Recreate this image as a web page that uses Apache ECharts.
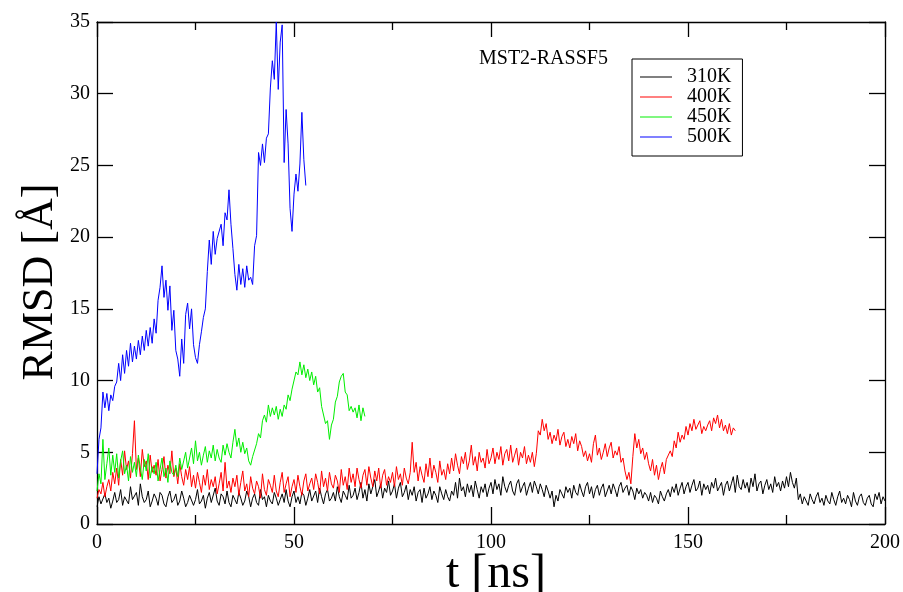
<!DOCTYPE html>
<html>
<head>
<meta charset="utf-8">
<script src="https://cdn.jsdelivr.net/npm/echarts@6/dist/echarts.min.js"></script>
<style>
  html, body { margin: 0; padding: 0; background: #fff; }
  #chart { width: 903px; height: 592px; }
</style>
</head>
<body>
<div id="chart"></div>
<script>
// RMSD vs time, sampled every 0.5 ns
var dt = 0.5;
var xTicks = [0, 50, 100, 150, 200];
var yTicks = [0, 5, 10, 15, 20, 25, 30, 35];
var seriesNames = ['310K', '400K', '450K', '500K'];
var seriesColors = ['#000000', '#ff0000', '#00ee00', '#0000ff'];

var rmsd310 = [
  1.2,1.9,1.4,1.3,2.1,1.5,1.8,1.1,1.6,2.2, 1.5,1.7,2.4,1.3,1.9,2.0,1.4,2.6,1.7,1.6,
  2.2,1.3,2.8,1.9,1.5,1.7,2.3,1.2,1.6,2.1, 1.8,1.3,2.2,2.0,1.4,1.2,1.9,2.3,1.5,1.7,
  2.1,1.3,1.6,2.3,1.8,1.2,1.5,2.0,1.9,1.3, 1.7,2.4,1.4,1.6,2.0,1.1,1.8,2.2,1.5,1.4,
  2.5,1.6,1.3,2.1,1.9,1.4,2.3,1.5,1.2,2.0, 1.7,1.4,2.2,1.8,1.3,1.6,2.3,1.9,1.2,1.8,
  2.1,1.5,1.3,2.4,1.7,1.9,1.2,2.0,1.6,1.4, 2.2,1.8,1.3,1.7,2.1,1.5,2.4,1.6,1.2,1.9,
  2.3,1.5,1.9,1.4,2.2,2.0,1.3,1.8,2.4,1.6, 1.7,2.3,1.5,2.5,1.9,1.4,2.1,2.4,1.6,1.8,
  2.2,1.6,2.6,1.9,1.5,2.3,2.0,1.7,2.7,1.8, 2.0,2.5,1.7,2.2,2.9,1.8,2.4,1.6,2.8,2.1,
  2.6,3.1,1.9,2.3,2.8,1.8,2.5,2.2,3.0,2.0, 2.3,2.8,1.8,2.5,2.9,1.9,2.2,2.7,1.7,2.4,
  2.0,2.6,1.6,2.2,2.4,1.5,2.5,1.8,2.1,2.6, 1.7,2.3,2.0,1.5,2.6,2.1,1.7,2.4,1.9,1.6,
  2.3,2.0,2.9,1.8,3.2,2.3,2.6,1.9,2.8,2.2, 2.7,1.9,3.0,2.4,1.8,2.6,2.2,2.8,1.9,2.5,
  2.9,2.1,3.1,2.4,2.8,2.0,3.3,2.6,2.2,2.7, 3.0,2.3,2.0,2.8,3.1,2.2,2.6,2.9,2.0,2.5,
  2.9,2.2,3.0,2.6,2.1,2.8,2.4,1.9,2.7,2.3, 1.8,2.3,1.2,2.0,1.6,2.4,2.1,1.8,2.6,2.2,
  2.5,1.8,2.7,2.2,2.0,2.8,2.3,1.9,2.6,2.9, 2.1,2.6,1.8,2.4,2.7,2.0,2.5,2.8,1.9,2.3,
  2.7,2.1,2.8,2.4,1.9,2.6,2.9,2.2,2.5,2.7, 2.0,2.6,2.3,1.7,2.5,2.1,2.4,1.8,2.2,2.0,
  1.6,2.2,1.5,2.0,1.8,1.4,2.3,1.9,1.6,2.1, 2.4,1.9,2.6,2.2,2.8,2.0,2.5,2.9,2.1,2.6,
  2.9,2.2,2.7,3.1,2.3,2.5,3.0,2.0,2.8,2.4, 2.7,2.1,2.9,2.5,3.2,2.3,2.6,2.9,2.0,2.7,
  3.0,2.3,2.8,3.3,2.2,3.4,2.6,2.4,3.1,2.5, 2.9,2.2,3.2,2.6,3.5,2.3,2.8,3.0,2.1,2.7,
  3.1,2.4,2.8,2.2,3.3,2.6,2.9,2.3,3.0,2.5, 3.3,2.6,3.6,2.9,2.5,3.2,1.7,2.1,1.4,1.9,
  1.6,1.3,2.1,1.7,1.4,1.9,2.2,1.5,1.8,1.3, 2.0,1.6,1.4,2.2,1.7,1.3,1.9,2.3,1.5,1.8,
  1.4,2.0,1.7,1.2,2.2,1.6,1.3,1.9,2.1,1.5, 1.3,1.8,2.0,1.4,1.2,2.1,1.7,2.2,1.4,1.9,
  1.6
];

var rmsd400 = [
  1.8,2.4,2.1,2.9,1.9,2.6,3.1,2.3,3.6,2.8, 3.9,2.7,4.5,3.4,5.1,3.8,4.4,3.2,4.9,7.2,
  3.8,4.6,3.3,5.2,4.0,4.4,3.1,4.8,3.6,4.1, 3.4,4.5,3.0,3.8,4.7,3.2,4.1,3.5,5.1,3.3,
  3.9,2.8,4.2,3.3,2.7,3.8,3.1,4.0,2.6,3.4, 2.5,3.6,2.9,2.2,3.4,2.7,3.8,2.4,3.1,2.6,
  3.3,2.1,2.8,3.6,2.3,4.3,2.5,3.0,2.2,3.2, 2.6,3.4,2.0,2.9,3.7,2.3,2.8,1.9,3.3,2.5,
  2.1,3.0,2.6,1.8,3.5,2.4,2.0,3.1,2.7,2.2, 3.4,2.3,1.9,2.9,3.6,2.2,2.8,3.3,1.9,2.6,
  3.1,2.2,3.4,2.6,2.0,3.0,3.5,2.3,2.8,3.2, 2.4,3.5,2.9,2.1,3.7,2.6,3.2,2.3,3.6,2.8,
  2.5,3.4,3.0,2.2,3.8,2.7,3.3,2.4,3.9,2.9, 3.5,2.6,3.9,3.1,2.5,3.4,3.8,2.7,4.0,3.2,
  2.6,3.7,3.0,3.9,2.5,3.4,3.8,2.7,3.3,2.9, 3.6,2.6,4.0,3.1,3.5,2.7,3.9,3.2,2.8,3.6,
  5.7,3.6,4.3,3.0,4.0,3.4,2.9,4.2,3.3,4.6, 3.2,4.1,3.6,2.9,4.4,3.4,3.8,3.1,4.2,3.5,
  4.6,3.7,4.9,4.1,3.5,4.7,4.2,5.0,3.8,4.4, 5.5,4.1,4.7,3.7,5.0,4.3,4.6,3.9,5.2,4.2,
  4.6,5.3,4.2,5.0,4.5,5.4,4.1,4.9,5.2,4.4, 5.5,4.3,4.8,5.3,4.1,5.0,4.6,5.4,4.2,4.8,
  4.3,5.0,4.0,4.9,6.5,6.2,7.3,6.5,7.0,5.9, 6.4,5.6,6.2,5.8,6.6,5.5,6.1,6.4,5.4,5.9,
  5.3,6.1,5.6,6.3,5.1,5.8,5.4,4.7,5.1,4.4, 4.9,4.3,5.6,6.2,4.8,5.3,4.5,5.0,5.6,4.7,
  5.3,5.7,4.6,5.1,4.8,5.4,4.3,4.6,3.7,3.1, 3.6,2.8,4.7,6.3,5.3,5.9,4.9,5.3,4.5,5.0,
  4.2,3.7,4.5,3.4,4.1,3.1,3.8,4.3,3.5,4.5, 4.4,5.1,4.7,5.8,5.3,6.4,5.7,6.2,5.9,6.8,
  6.2,7.0,6.5,7.3,6.6,6.9,7.2,6.3,6.8,6.5, 6.9,7.2,6.5,7.4,7.0,7.6,6.7,7.3,6.5,6.9,
  6.3,7.0,6.2,6.7,6.5
];

var rmsd450 = [
  2.3,3.5,2.8,5.9,3.1,4.2,5.3,3.4,4.8,3.6, 4.9,3.2,4.4,5.1,3.5,4.1,3.0,4.7,3.6,4.3,
  3.3,4.8,3.9,3.1,4.5,3.7,4.9,3.2,4.0,3.5, 4.3,3.0,3.8,4.6,3.3,3.9,2.9,4.4,3.6,3.4,
  4.1,3.3,4.6,3.8,4.4,5.0,3.9,4.6,5.3,4.2, 5.8,4.4,5.0,4.1,4.8,5.4,4.3,5.1,4.6,5.5,
  4.4,5.2,4.6,4.3,5.5,4.8,5.6,5.0,4.6,5.7, 6.6,5.4,6.0,5.0,5.7,4.9,5.3,4.4,4.1,4.7,
  4.8,5.6,6.3,6.0,7.2,7.6,7.1,8.3,7.5,8.1, 7.6,8.2,7.3,8.0,7.5,8.3,8.0,9.0,8.6,9.4,
  9.4,10.6,10.4,11.3,10.4,11.1,10.2,10.8,10.0,10.6, 9.7,10.3,9.2,9.5,8.2,8.3,7.0,7.2,5.9,6.9,
  7.3,8.5,8.9,9.9,10.3,10.5,9.2,9.0,7.9,8.2, 7.8,8.1,7.4,8.3,7.2,8.1,7.5
];

var rmsd500 = [
  3.5,5.9,6.7,9.2,8.1,9.1,7.9,9.0,8.6,9.6, 9.9,11.2,10.0,11.8,10.5,12.1,11.0,12.6,11.3,12.4,
  11.5,12.8,11.8,13.1,12.1,13.5,12.4,13.7,12.6,14.3, 13.3,15.6,16.5,18.0,15.8,17.0,14.9,16.6,13.5,14.9,
  12.1,11.5,10.3,12.9,11.2,14.6,15.4,13.6,15.0,12.5, 11.6,11.2,12.5,13.4,14.4,15.0,17.6,19.8,18.1,20.4,
  18.8,19.9,19.8,20.9,19.4,21.7,21.2,23.3,20.9,19.2, 17.4,16.3,18.1,16.7,17.8,16.5,18.0,17.0,17.2,16.7,
  19.4,20.1,25.9,25.0,26.5,25.2,26.9,27.2,30.4,32.3, 31.0,35.0,30.3,33.6,34.8,25.2,28.9,26.5,22.0,20.4,
  23.0,24.4,23.2,25.1,28.7,25.4,23.6
];

var allSeries = [rmsd310, rmsd400, rmsd450, rmsd500];

var toPairs = function toPairs(values) {
  return values.map(function (v, i) { return [i * dt, v]; });
};

var serifFont = '"Liberation Serif", "DejaVu Serif", serif';

var chart = echarts.init(document.getElementById('chart'), null, { renderer: 'canvas' });

var axisCommon = function axisCommon(ticks, showLabels, majorLen, minorLen, minorSplit) {
  return {
    type: 'value',
    min: ticks[0],
    max: ticks[ticks.length - 1],
    interval: ticks[1] - ticks[0],
    axisLine: { show: true, onZero: false, lineStyle: { color: '#000', width: 1.3 } },
    axisTick: { show: true, inside: true, length: majorLen, lineStyle: { color: '#000', width: 1.3 } },
    minorTick: { show: minorSplit > 0, splitNumber: minorSplit || 5, length: minorLen, lineStyle: { color: '#000', width: 1.3 } },
    splitLine: { show: false },
    axisLabel: {
      show: showLabels,
      color: '#000',
      fontFamily: serifFont,
      fontSize: 20
    }
  };
};

var xBottom = axisCommon(xTicks, true, 17, 9, 2);
xBottom.position = 'bottom';
xBottom.name = 't [ns]';
xBottom.nameLocation = 'middle';
xBottom.nameGap = 26;
xBottom.nameMoveOverlap = false;
xBottom.nameTextStyle = { color: '#000', fontFamily: serifFont, fontSize: 48, padding: [0, 0, 0, 10] };
xBottom.axisLabel.margin = 9;

var xTop = axisCommon(xTicks, false, 15, 8, 2);
xTop.position = 'top';

var yLeft = axisCommon(yTicks, true, 16, 0, 0);
yLeft.position = 'left';
yLeft.name = 'RMSD [Å]';
yLeft.nameLocation = 'middle';
yLeft.nameGap = 35;
yLeft.nameMoveOverlap = false;
yLeft.nameTextStyle = { color: '#000', fontFamily: serifFont, fontSize: 44, padding: [0, 18, 0, 0] };
yLeft.axisLabel.margin = 7;

var yRight = axisCommon(yTicks, false, 16, 0, 0);
yRight.position = 'right';

var option = {
  animation: false,
  backgroundColor: '#fff',
  color: seriesColors,
  title: {
    text: 'MST2-RASSF5',
    left: 474,
    top: 44,
    textStyle: { color: '#000', fontFamily: serifFont, fontSize: 20, fontWeight: 'normal' }
  },
  legend: {
    orient: 'vertical',
    left: 632,
    top: 59,
    data: seriesNames,
    icon: 'rect',
    itemWidth: 32,
    itemHeight: 1,
    itemGap: 0,
    padding: [8, 11, 9, 8],
    borderColor: '#000',
    borderWidth: 1,
    textStyle: { color: '#000', fontFamily: serifFont, fontSize: 20, lineHeight: 20, padding: [0, 0, 0, 10] }
  },
  grid: { left: 97, right: 18, top: 22, bottom: 68, containLabel: false, outerBoundsMode: 'none' },
  xAxis: [xBottom, xTop],
  yAxis: [yLeft, yRight],
  series: allSeries.map(function (vals, k) {
    return {
      name: seriesNames[k],
      type: 'line',
      xAxisIndex: 0,
      yAxisIndex: 0,
      data: toPairs(vals),
      showSymbol: false,
      symbol: 'none',
      lineStyle: { width: 1, color: seriesColors[k] },
      itemStyle: { color: seriesColors[k] }
    };
  })
};

chart.setOption(option);
</script>
</body>
</html>
